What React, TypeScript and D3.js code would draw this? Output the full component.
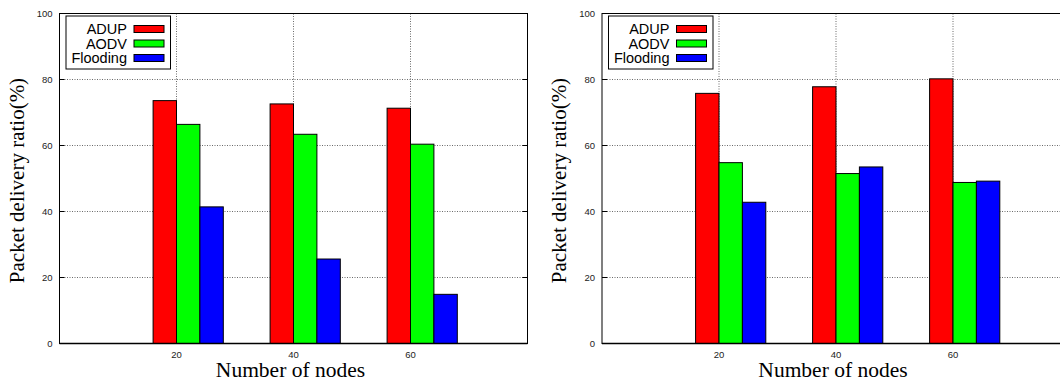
import React from "react";
import * as d3 from "d3";

const categories = [20, 40, 60];
const seriesNames = ["ADUP", "AODV", "Flooding"];
const seriesColors = ["#ff0000", "#00ff00", "#0000ff"];
const leftADUP = [73.6, 72.6, 71.3];
const leftAODV = [66.4, 63.4, 60.4];
const leftFlooding = [41.4, 25.6, 14.9];
const rightADUP = [75.8, 77.8, 80.2];
const rightAODV = [54.8, 51.5, 48.8];
const rightFlooding = [42.8, 53.5, 49.2];
const yTicks = [0, 20, 40, 60, 80, 100];
const xDomain = [0, 80];
const barUnit = 4;
const yLabel = "Packet delivery ratio(%)";
const xLabel = "Number of nodes";

const W = 1060;
const H = 383;
const TOP = 13.5;
const BOTTOM = 343.5;

function Panel({ x0, x1, series }: { x0: number; x1: number; series: number[][] }) {
  const x = d3.scaleLinear().domain(xDomain).range([x0, x1]);
  const y = d3.scaleLinear().domain([0, 100]).range([BOTTOM, TOP]);
  const sans = "'Liberation Sans', Arial, sans-serif";
  const serif = "'Liberation Serif', 'Times New Roman', serif";
  return (
    <g>
      {yTicks.filter(t => t > 0 && t < 100).map(t => (
        <line key={"gy" + t} x1={x0} x2={x1} y1={y(t)} y2={y(t)} stroke="#444" strokeWidth={0.8} strokeDasharray="1,1.5" />
      ))}
      {categories.map(c => (
        <line key={"gx" + c} x1={x(c)} x2={x(c)} y1={TOP} y2={BOTTOM} stroke="#444" strokeWidth={0.8} strokeDasharray="1,1.5" />
      ))}
      {series.map((vals, si) =>
        vals.map((v, ci) => {
          const c = categories[ci];
          const xa = x(c + (si - 1) * barUnit);
          const xb = x(c + si * barUnit);
          return (
            <rect key={si + "-" + ci} x={xa} y={y(v)} width={xb - xa} height={y(0) - y(v)}
              fill={seriesColors[si]} stroke="#000" strokeWidth={1} />
          );
        })
      )}
      <rect x={x0} y={TOP} width={x1 - x0} height={BOTTOM - TOP} fill="none" stroke="#000" strokeWidth={1} />
      <line x1={x0} x2={x1} y1={BOTTOM} y2={BOTTOM} stroke="#000" strokeWidth={1.5} />
      {yTicks.map(t => (
        <g key={"ty" + t}>
          <line x1={x0} x2={x0 + 5} y1={y(t)} y2={y(t)} stroke="#000" />
          <line x1={x1} x2={x1 - 5} y1={y(t)} y2={y(t)} stroke="#000" />
          <text x={x0 - 7} y={y(t)} dy="0.35em" textAnchor="end" fontFamily={sans} fontSize={9.5} fill="#222">{t}</text>
        </g>
      ))}
      {categories.map(c => (
        <text key={"tx" + c} x={x(c)} y={BOTTOM + 14.5} textAnchor="middle" fontFamily={sans} fontSize={9.5} fill="#222">{c}</text>
      ))}
      <text transform={`translate(${x0 - 43},${(TOP + BOTTOM) / 2 + 2}) rotate(-90)`} textAnchor="middle" dy="0.35em" fontFamily={serif} fontSize={21} fill="#000">{yLabel}</text>
      <text x={(x0 + x1) / 2 - 3} y={377} textAnchor="middle" fontFamily={serif} fontSize={21.5} fill="#000">{xLabel}</text>
      <rect x={x0 + 6.5} y={16} width={104.5} height={53} fill="#fff" stroke="#000" strokeWidth={1} />
      {seriesNames.map((n, i) => {
        const cy = 29 + i * 14.5;
        return (
          <g key={n}>
            <text x={x0 + 67.5} y={cy} dy="0.36em" textAnchor="end" fontFamily={sans} fontSize={14.5} fill="#000">{n}</text>
            <rect x={x0 + 74.5} y={cy - 3.5} width={30} height={7} fill={seriesColors[i]} stroke="#000" strokeWidth={1} />
          </g>
        );
      })}
    </g>
  );
}

export default function App() {
  return (
    <svg width={W} height={H} style={{ position: "absolute", left: 0, top: 0, background: "#fff" }}>
      <rect width={W} height={H} fill="#fff" />
      <Panel x0={59.5} x1={527.5} series={[leftADUP, leftAODV, leftFlooding]} />
      <Panel x0={602} x1={1070} series={[rightADUP, rightAODV, rightFlooding]} />
    </svg>
  );
}
